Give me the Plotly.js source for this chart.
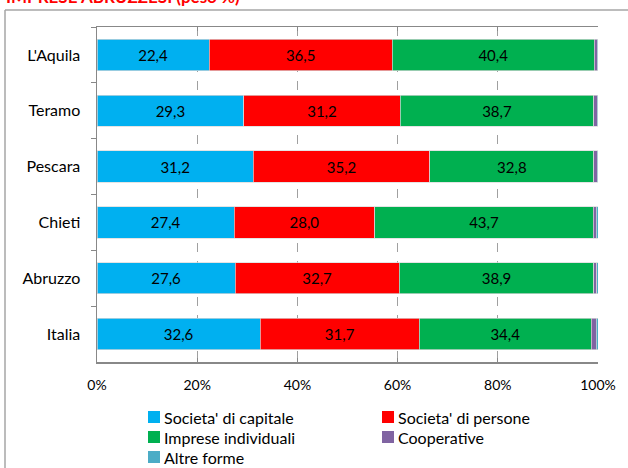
<!DOCTYPE html>
<html>
<head>
<meta charset="utf-8">
<script src="https://cdn.plot.ly/plotly-3.0.1.min.js"></script>
<style>html,body{margin:0;padding:0;background:#fff;}#chart{width:628px;height:468px;}</style>
</head>
<body>
<div id="chart"></div>
<script>
const categories = ["L'Aquila", "Teramo", "Pescara", "Chieti", "Abruzzo", "Italia"];
const seriesNames = ["Societa' di capitale", "Societa' di persone", "Imprese individuali", "Cooperative", "Altre forme"];
const capitale   = [22.4, 29.3, 31.2, 27.4, 27.6, 32.6];
const persone    = [36.5, 31.2, 35.2, 28.0, 32.7, 31.7];
const individuali= [40.4, 38.7, 32.8, 43.7, 38.9, 34.4];
const cooperative= [0.5, 0.6, 0.6, 0.5, 0.5, 0.9];
const altre      = [0.2, 0.2, 0.2, 0.4, 0.3, 0.4];
const tickVals = [0, 20, 40, 60, 80, 100];
const tickText = ["0%", "20%", "40%", "60%", "80%", "100%"];
const titleText = 'IMPRESE ABRUZZESI (peso %)';
const colors = ["#00B0F0", "#FF0000", "#00B050", "#8064A2", "#4BACC6"];
const allSeries = [capitale, persone, individuali, cooperative, altre];
const showLabels = [true, true, true, false, false];

const fmt = v => v.toFixed(1).replace('.', ',');
const FONT = 'Lato, sans-serif';

const traces = allSeries.map((vals, i) => ({
  type: 'bar',
  orientation: 'h',
  name: seriesNames[i],
  y: categories,
  x: vals,
  marker: {color: colors[i], line: {color: '#d9d9d9', width: 0.7}},
  text: showLabels[i] ? vals.map(fmt) : undefined,
  textposition: showLabels[i] ? 'inside' : 'none',
  insidetextanchor: 'middle',
  textfont: {color: '#000', size: 15, family: FONT},
  hoverinfo: 'skip',
  showlegend: false
}));

// plot area in pixels: x 97..598, y 27..362
const PL = 97, PW = 501, PB = 362, PH = 335;
const px = x => (x - PL) / PW;
const py = y => (PB - y) / PH;

const legCols = [148, 382];
const legRows = [417, 437, 457];
const shapes = [
  {type: 'line', xref: 'paper', yref: 'paper', x0: px(5), x1: 1.2, y0: py(10), y1: py(10), line: {color: '#a6a6a6', width: 1.5}},
  {type: 'line', xref: 'paper', yref: 'paper', x0: px(5), x1: px(5), y0: py(10), y1: -0.5, line: {color: '#a6a6a6', width: 1.5}}
];
const annotations = [
  {xref: 'paper', yref: 'paper', x: px(4), y: py(-3), xanchor: 'left', yanchor: 'middle',
   showarrow: false, text: titleText,
   font: {color: '#FF0000', size: 17, family: FONT, weight: 'bold'}}
];
seriesNames.forEach((name, i) => {
  const cx = legCols[i % 2], cy = legRows[Math.floor(i / 2)];
  shapes.push({type: 'rect', xref: 'paper', yref: 'paper',
    x0: px(cx), x1: px(cx + 12), y0: py(cy - 6), y1: py(cy + 6),
    fillcolor: colors[i], line: {width: 0}});
  annotations.push({xref: 'paper', yref: 'paper', x: px(cx + 14), y: py(cy),
    xanchor: 'left', yanchor: 'middle', showarrow: false, text: name,
    font: {size: 16, color: '#000', family: FONT}});
});

const layout = {
  width: 628, height: 468,
  barmode: 'stack',
  bargap: 0.44,
  margin: {l: PL, r: 628 - PL - PW, t: 27, b: 468 - PB},
  paper_bgcolor: '#fff', plot_bgcolor: '#fff',
  font: {family: FONT, color: '#000'},
  xaxis: {
    range: [0, 100], tickvals: tickVals, ticktext: tickText,
    showgrid: true, gridcolor: '#a0a0a0', griddash: 'dash', gridwidth: 1,
    zeroline: false,
    showline: true, linecolor: '#888', linewidth: 1.5, mirror: 'ticks',
    ticks: 'inside', ticklen: 4, tickcolor: '#888',
    ticklabelstandoff: 10,
    tickfont: {size: 14, color: '#000'},
    fixedrange: true
  },
  yaxis: {
    autorange: 'reversed',
    showline: true, linecolor: '#888', linewidth: 1.5,
    ticks: 'outside', ticklen: 5, tickcolor: '#888', tickson: 'boundaries',
    ticklabelstandoff: 12,
    tickfont: {size: 16, color: '#000'},
    showgrid: false, fixedrange: true
  },
  shapes: shapes,
  annotations: annotations,
  showlegend: false
};

Plotly.newPlot('chart', traces, layout, {displayModeBar: false, staticPlot: true});
</script>
</body>
</html>
